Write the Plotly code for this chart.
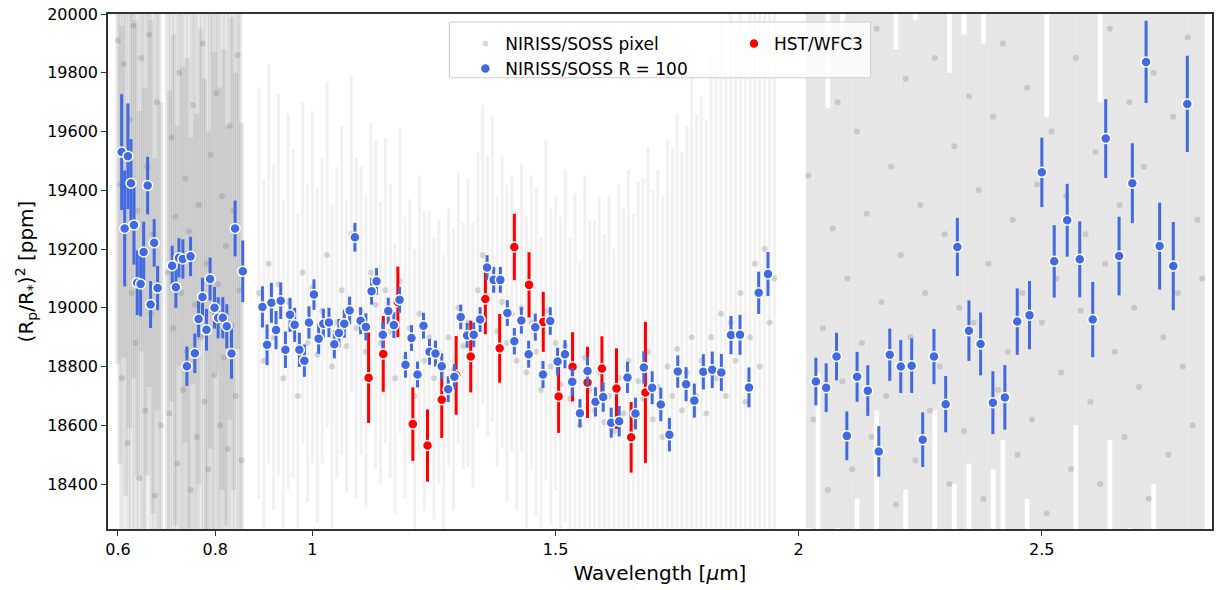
import plotly.graph_objects as go

# ---------------- NIRISS/SOSS R=100 (blue) ----------------
soss_wl = [0.6076, 0.6138, 0.6205, 0.6267, 0.6329, 0.6396, 0.6466, 0.6528, 0.6610, 0.6671,
           0.6745, 0.6815, 0.7115, 0.7191, 0.7253, 0.7335, 0.7417, 0.7493, 0.7581, 0.7657,
           0.7739, 0.7821, 0.7895, 0.7986, 0.8060, 0.8156, 0.8238, 0.8335, 0.8409, 0.8567,
           0.8971, 0.9066, 0.9156, 0.9251, 0.9347, 0.9444, 0.9538, 0.9634, 0.9731, 0.9834,
           0.9928, 1.0031, 1.0127, 1.0224, 1.0339, 1.0450, 1.0544, 1.0655, 1.0764, 1.0873,
           1.0990, 1.1099, 1.1216, 1.1318, 1.1448, 1.1559, 1.1674, 1.1791, 1.1914, 1.2037,
           1.2160, 1.2283, 1.2407, 1.2530, 1.2659, 1.2791, 1.2920, 1.3049, 1.3181, 1.3316,
           1.3448, 1.3591, 1.3727, 1.3864, 1.4008, 1.4152, 1.4296, 1.4446, 1.4583, 1.4741,
           1.4891, 1.5041, 1.5193, 1.5343, 1.5501, 1.5657, 1.5821, 1.5979, 1.6144, 1.6308,
           1.6478, 1.6643, 1.6815, 1.6986, 1.7164, 1.7341, 1.7513, 1.7684, 1.7854, 1.8039,
           1.8222, 1.8409, 1.8608, 1.8793, 1.8977, 1.9177, 1.9368,
           2.0353, 2.0565, 2.0778, 2.0990, 2.1201, 2.1421, 2.1647, 2.1873, 2.2099, 2.2324,
           2.2550, 2.2782, 2.3023, 2.3263, 2.3501, 2.3741, 2.3994, 2.4240, 2.4495, 2.4747,
           2.5000, 2.5255, 2.5522, 2.5780, 2.6047, 2.6314, 2.6589, 2.6862, 2.7144, 2.7423,
           2.7704, 2.7992]
soss_depth = [19530, 19270, 19516, 19424, 19282, 19085, 19081, 19190, 19416, 19011,
              19221, 19067, 19143, 19070, 19170, 19166, 18801, 19175, 18845, 18962,
              19037, 18925, 19098, 19000, 18966, 18966, 18937, 18844, 19270, 19124,
              19003, 18874, 19017, 18924, 19024, 18857, 18976, 18942, 18857, 18820,
              18950, 19045, 18895, 18946, 18950, 18876, 18914, 18946, 18991, 19240,
              18956, 18935, 19056, 19090, 18908, 18989, 18941, 19027, 18806, 18897,
              18773, 18939, 18850, 18844, 18801, 18723, 18765, 18969, 18906, 18908,
              18960, 19137, 19095, 19095, 18982, 18886, 18957, 18842, 18934, 18773,
              18955, 18817, 18842, 18748, 18641, 18785, 18680, 18696, 18609, 18614,
              18763, 18640, 18797, 18728, 18671, 18568, 18783, 18740, 18684, 18782,
              18789, 18780, 18907, 18908, 18729, 19051, 19115,
              18749, 18728, 18834, 18564, 18765, 18718, 18511, 18840, 18800, 18803,
              18551, 18834, 18672, 19207, 18922, 18877, 18677, 18695, 18953, 18975,
              19461, 19158, 19298, 19165, 18960, 19576, 19176, 19424, 19837, 19210,
              19142, 19694]
soss_err = [197, 197, 180, 150, 135, 110, 110, 103, 98, 80,
            81, 75, 68, 70, 67, 67, 67, 67, 67, 62,
            65, 71, 73, 71, 70, 70, 75, 85, 95, 105,
            70, 69, 68, 65, 62, 62, 58, 58, 58, 55,
            55, 52, 52, 50, 50, 48, 48, 48, 47, 49,
            46, 46, 45, 45, 45, 45, 44, 44, 44, 44,
            44, 44, 44, 44, 44, 44, 44, 42, 42, 42,
            42, 42, 44, 44, 44, 45, 45, 46, 46, 46,
            47, 47, 48, 48, 48, 49, 50, 50, 51, 52,
            53, 54, 55, 56, 57, 57, 55, 58, 58, 60,
            62, 63, 65, 68, 68, 72, 75,
            81, 83, 81, 83, 85, 86, 86, 89, 90, 93,
            93, 94, 96, 99, 103, 107, 107, 110, 113, 116,
            118, 123, 124, 129, 128, 134, 134, 136, 140, 148,
            150, 164]

# ---------------- HST/WFC3 (red) ----------------
hst_wl = [1.1154, 1.1456, 1.1756, 1.2064, 1.2366, 1.2659, 1.2955, 1.3255, 1.3556, 1.3850,
          1.4152, 1.4454, 1.4747, 1.5062, 1.5349, 1.5657, 1.5953, 1.6253, 1.6554, 1.6848]
hst_depth = [18762, 18843, 19020, 18604, 18531, 18687, 18770, 18834, 19030, 18862,
             19207, 19078, 18952, 18698, 18799, 18746, 18793, 18725, 18559, 18712]
hst_err = [154, 129, 120, 125, 123, 130, 134, 122, 120, 117,
           113, 111, 102, 124, 118, 121, 110, 137, 120, 240]

# ---------------- NIRISS/SOSS pixel-level (gray) ----------------
pix1_wl = [0.600, 0.604, 0.608, 0.612, 0.616, 0.620, 0.624, 0.628, 0.632, 0.636, 0.640, 0.644,
           0.648, 0.652, 0.656, 0.660, 0.664, 0.668, 0.672, 0.676, 0.680, 0.684, 0.688]
pix1_depth = [19910, 19420, 18760, 19830, 19260, 18540, 19640, 19050, 19960, 18880, 19330, 18420,
              19850, 19150, 18650, 19480, 19930, 18980, 19250, 18360, 19700, 19080, 18600]
pix1_err = [1100, 950, 1200, 1000, 900, 1150, 1050, 980, 1200, 1100, 900, 1250,
            1000, 950, 1100, 1050, 1200, 1000, 950, 1150, 1050, 1000, 1100]

pix2_wl = [0.702, 0.706, 0.710, 0.714, 0.718, 0.722, 0.726, 0.730, 0.734, 0.738, 0.742, 0.746, 0.750,
           0.754, 0.758, 0.762, 0.766, 0.770, 0.774, 0.778, 0.782, 0.786, 0.790, 0.794, 0.798, 0.802,
           0.806, 0.810, 0.814, 0.818, 0.822, 0.826, 0.830, 0.834, 0.838, 0.842, 0.846, 0.850, 0.854]
pix2_depth = [19120, 18640, 19580, 18930, 19310, 18470, 19800, 19050, 18720, 19440, 18850, 19260, 18380,
              19690, 19010, 18560, 19350, 18900, 19900, 18680, 19150, 18450, 19520, 18990, 18770, 19730,
              19080, 18600, 19380, 18830, 19210, 18520, 19620, 18940, 19330, 18700, 19860, 19060, 18480]
pix2_err = [950, 1100, 900, 1000, 1050, 1150, 1000, 950, 1100, 900, 1000, 1050, 1200,
            950, 1000, 1100, 950, 1050, 1000, 1100, 950, 1150, 1000, 1050, 1100, 950,
            1000, 1150, 1000, 1050, 950, 1100, 1000, 1050, 950, 1100, 1000, 1050, 1150]

pix3_wl = [0.89, 0.90, 0.91, 0.92, 0.93, 0.94, 0.95,
           0.96, 0.97, 0.98, 0.99, 1.00, 1.01, 1.02, 1.03, 1.04, 1.05,
           1.06, 1.07, 1.08, 1.09, 1.10, 1.11, 1.12, 1.13, 1.14, 1.15,
           1.16, 1.17, 1.18, 1.19, 1.20, 1.21, 1.22, 1.23, 1.24, 1.25,
           1.26, 1.27, 1.28, 1.29, 1.30, 1.31, 1.32, 1.33, 1.34, 1.35,
           1.36, 1.37, 1.38, 1.39, 1.40, 1.41, 1.42, 1.43, 1.44, 1.45,
           1.46, 1.47, 1.48, 1.49, 1.50, 1.51, 1.52, 1.53, 1.54, 1.55,
           1.56, 1.57, 1.58, 1.59, 1.60, 1.61, 1.62, 1.63, 1.64, 1.65,
           1.66, 1.67, 1.68, 1.69, 1.70, 1.71, 1.72, 1.73, 1.74, 1.75,
           1.76, 1.77, 1.78, 1.79, 1.80, 1.81, 1.82, 1.83, 1.84, 1.85,
           1.86, 1.87, 1.88, 1.89, 1.90, 1.91, 1.92, 1.93, 1.94, 1.95]
pix3_depth = [19050, 18820, 19150, 18900, 19080, 18760, 19020,
              18980, 18700, 19120, 18880, 19070, 18840, 18990, 19180, 18800, 18950,
              19060, 18870, 19250, 18930, 18990, 18850, 19120, 19010, 18880, 19060,
              18920, 18760, 19090, 18830, 18930, 18700, 18980, 18820, 18900, 18760,
              18850, 18680, 18900, 18790, 19000, 18870, 18950, 18840, 19060, 19180,
              19040, 19130, 18920, 19020, 18880, 18980, 18820, 19000, 18780, 18950,
              18850, 18720, 18990, 18800, 18880, 18740, 18870, 18690, 18800, 18600,
              18830, 18720, 18650, 18780, 18610, 18700, 18580, 18760, 18640, 18820,
              18600, 18750, 18690, 18850, 18620, 18730, 18560, 18800, 18700, 18860,
              18650, 18780, 18900, 18700, 18820, 18640, 18900, 18760, 18980, 18700,
              18950, 18820, 19050, 18680, 18900, 19150, 18800, 19200, 18950, 19100]
pix3_err = [700, 620, 680, 590, 650, 610, 640,
            560, 620, 580, 540, 600, 570, 520, 590, 550, 530,
            560, 500, 540, 580, 490, 530, 510, 560, 480, 520,
            500, 460, 520, 480, 440, 500, 470, 510, 430, 480,
            450, 500, 440, 480, 460, 420, 490, 450, 470, 510,
            480, 520, 460, 500, 540, 470, 510, 490, 530, 500,
            560, 520, 580, 540, 500, 570, 600, 550, 590, 560,
            620, 580, 650, 600, 640, 680, 620, 660, 700, 650,
            720, 680, 750, 700, 780, 740, 820, 770, 850, 800,
            880, 840, 920, 960, 900, 1000, 950, 1050, 1000, 1100,
            1150, 1100, 1200, 1250, 1180, 1300, 1350, 1280, 1400, 1450]

pix4_wl = [2.02, 2.03, 2.04, 2.05, 2.06, 2.07, 2.08, 2.09, 2.10, 2.11,
           2.12, 2.13, 2.14, 2.15, 2.16, 2.17, 2.18, 2.19, 2.20, 2.21,
           2.22, 2.23, 2.24, 2.25, 2.26, 2.27, 2.28, 2.29, 2.30, 2.31,
           2.32, 2.33, 2.34, 2.35, 2.36, 2.37, 2.38, 2.39, 2.40, 2.41,
           2.42, 2.43, 2.44, 2.45, 2.46, 2.47, 2.48, 2.49, 2.50, 2.51,
           2.52, 2.53, 2.54, 2.55, 2.56, 2.57, 2.58, 2.59, 2.60, 2.61,
           2.62, 2.63, 2.64, 2.65, 2.66, 2.67, 2.68, 2.69, 2.70, 2.71,
           2.72, 2.73, 2.74, 2.75, 2.76, 2.77, 2.78, 2.79, 2.80, 2.81,
           2.82, 2.83]
pix4_depth = [19450, 18620, 19880, 18930, 18380, 19270, 19700, 18750, 19100, 18450,
              19600, 18880, 19320, 18560, 19950, 19020, 18700, 19480, 18330, 19180,
              19780, 18900, 18480, 19350, 19050, 18650, 19850, 18800, 19250, 18400,
              19550, 19000, 18580, 19720, 18950, 19400, 18350, 19150, 19650, 18720,
              19900, 18850, 19300, 18500, 19050, 19750, 18620, 19420, 18950, 18300,
              19600, 19100, 18780, 19380, 18450, 19850, 18990, 19250, 18680, 19530,
              18400, 19150, 19950, 18850, 19350, 18560, 19700, 19000, 18730, 19480,
              18350, 19800, 19200, 18900, 18500, 19650, 19050, 18800, 19920, 18600,
              19300, 19100]
pix4_err = [1200, 1400, 1100, 1500, 1300, 1250, 1450, 1150, 1350, 1600,
            1250, 1400, 1200, 1500, 1300, 1100, 1450, 1350, 1550, 1200,
            1400, 1300, 1500, 1250, 1350, 1450, 1200, 1600, 1300, 1400,
            1150, 1500, 1350, 1250, 1450, 1300, 1550, 1400, 1200, 1500,
            1350, 1450, 1250, 1550, 1300, 1400, 1600, 1250, 1500, 1350,
            1450, 1300, 1550, 1400, 1650, 1250, 1500, 1350, 1450, 1600,
            1300, 1550, 1400, 1700, 1350, 1500, 1450, 1600, 1300, 1550,
            1650, 1400, 1500, 1350, 1700, 1450, 1600, 1500, 1750, 1400,
            1550, 1650]

x_ticks = [0.6, 0.8, 1, 1.5, 2, 2.5]
x_ticktext = ["0.6", "0.8", "1", "1.5", "2", "2.5"]
y_ticks = [18400, 18600, 18800, 19000, 19200, 19400, 19600, 19800, 20000]
y_ticktext = ["18400", "18600", "18800", "19000", "19200", "19400", "19600", "19800", "20000"]

FONT = "DejaVu Sans"
fig = go.Figure()

pixel_sets = [
    (pix1_wl, pix1_depth, pix1_err, 5, "rgba(128,128,128,0.18)"),
    (pix2_wl, pix2_depth, pix2_err, 5, "rgba(128,128,128,0.18)"),
    (pix3_wl, pix3_depth, pix3_err, 3, "rgba(128,128,128,0.11)"),
    (pix4_wl, pix4_depth, pix4_err, 5, "rgba(128,128,128,0.19)"),
]
for i, (wx, wy, we, th, col) in enumerate(pixel_sets):
    fig.add_trace(go.Scatter(
        x=wx, y=wy, mode="markers", name="NIRISS/SOSS pixel",
        legend="legend", legendgroup="pix", showlegend=(i == 0),
        marker=dict(size=6, color="rgba(128,128,128,0.3)", line=dict(width=0)),
        error_y=dict(type="data", array=we, visible=True, thickness=th, width=0, color=col),
        hoverinfo="skip",
    ))

fig.add_trace(go.Scatter(
    x=hst_wl, y=hst_depth, mode="markers", name="HST/WFC3", legend="legend2",
    marker=dict(size=10, color="#ff0000", line=dict(color="white", width=1.5)),
    error_y=dict(type="data", array=hst_err, visible=True, thickness=3, width=0, color="#ff0000"),
))
fig.add_trace(go.Scatter(
    x=soss_wl, y=soss_depth, mode="markers", name="NIRISS/SOSS R = 100", legend="legend",
    marker=dict(size=10, color="#4169e1", line=dict(color="white", width=1.5)),
    error_y=dict(type="data", array=soss_err, visible=True, thickness=3, width=0, color="#4169e1"),
))

# legend frame
fig.add_shape(type="rect", xref="paper", yref="paper",
              x0=0.3092, x1=0.6908, y0=0.8762, y1=0.9845,
              line=dict(color="#cccccc", width=1), fillcolor="rgba(255,255,255,0.8)",
              layer="above")

fig.update_layout(
    width=1219, height=590,
    margin=dict(l=108, r=5, t=12, b=61),
    paper_bgcolor="white", plot_bgcolor="white",
    font=dict(family=FONT, size=16, color="black"),
    legend=dict(x=0.3237, y=0.977, xanchor="left", yanchor="top",
                bgcolor="rgba(0,0,0,0)", borderwidth=0,
                font=dict(family=FONT, size=17), tracegroupgap=0),
    legend2=dict(x=0.567, y=0.977, xanchor="left", yanchor="top",
                 bgcolor="rgba(0,0,0,0)", borderwidth=0,
                 font=dict(family=FONT, size=17)),
    xaxis=dict(range=[0.5795, 2.850], tickvals=x_ticks, ticktext=x_ticktext,
               showgrid=False, zeroline=False, showline=True, mirror=True,
               linecolor="#333333", linewidth=1.5, ticks="outside", ticklen=5,
               tickwidth=1.2, tickcolor="#333333",
               tickfont=dict(family=FONT, size=16),
               title=dict(text="Wavelength [<i>μ</i>m]", font=dict(family=FONT, size=20), standoff=8)),
    yaxis=dict(range=[18247, 20000], tickvals=y_ticks, ticktext=y_ticktext,
               showgrid=False, zeroline=False, showline=True, mirror=True,
               linecolor="#333333", linewidth=1.5, ticks="outside", ticklen=5,
               tickwidth=1.2, tickcolor="#333333",
               tickfont=dict(family=FONT, size=16),
               title=dict(text="(R<sub>p</sub>/R<sub>*</sub>)<sup>2</sup> [ppm]",
                          font=dict(family=FONT, size=20), standoff=8)),
)

fig.write_html("out.html")
